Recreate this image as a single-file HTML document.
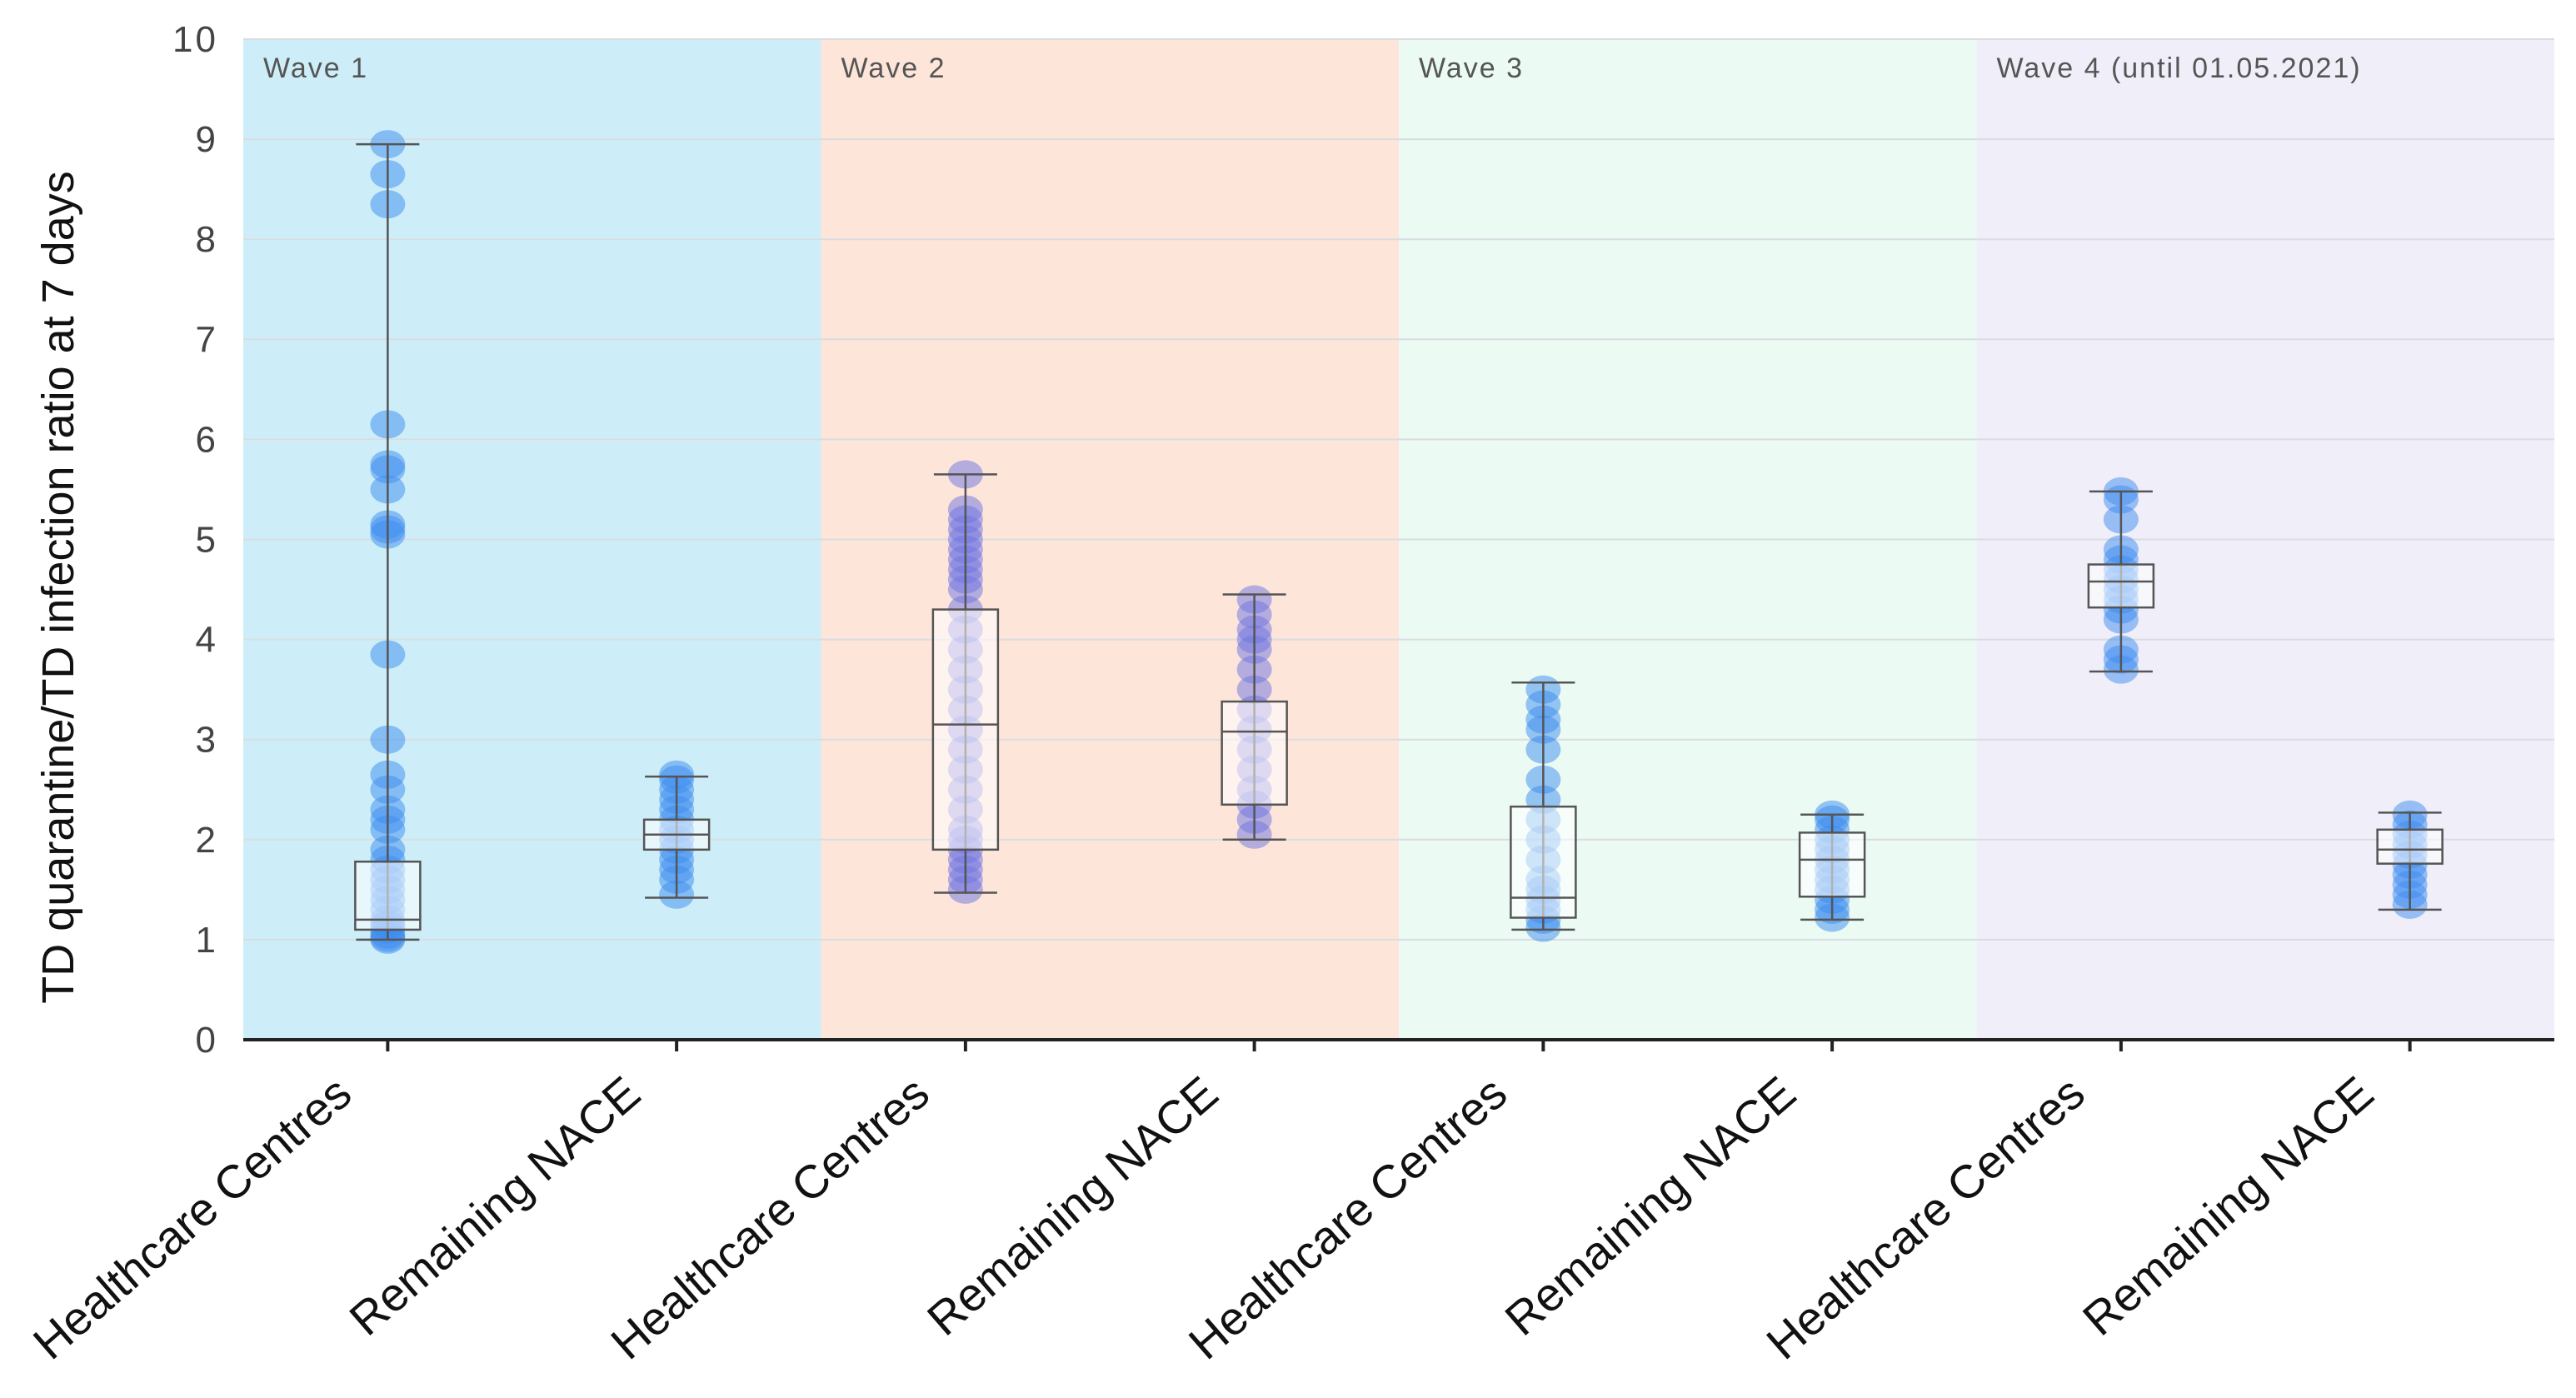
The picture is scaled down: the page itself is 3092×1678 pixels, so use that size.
<!DOCTYPE html>
<html><head><meta charset="utf-8"><style>
html,body{margin:0;padding:0;background:#fff;}
svg{display:block;font-family:"Liberation Sans",sans-serif;}
</style></head><body>
<svg id="chart" width="3092" height="1678" viewBox="0 0 3092 1678"></svg>
<script>
const waves = ["Wave 1","Wave 2","Wave 3","Wave 4 (until 01.05.2021)"];
const waveColors = ["#cdeef9","#fde5da","#ebfaf3","#f0eef9"];
const categories = ["Healthcare Centres","Remaining NACE","Healthcare Centres","Remaining NACE","Healthcare Centres","Remaining NACE","Healthcare Centres","Remaining NACE"];
const whiskerLow  = [1.0, 1.42, 1.47, 2.0, 1.1, 1.2, 3.68, 1.3];
const q1          = [1.1, 1.9, 1.9, 2.35, 1.22, 1.43, 4.32, 1.76];
const median      = [1.2, 2.05, 3.15, 3.08, 1.42, 1.8, 4.58, 1.9];
const q3          = [1.78, 2.2, 4.3, 3.38, 2.33, 2.07, 4.75, 2.1];
const whiskerHigh = [8.95, 2.63, 5.65, 4.45, 3.57, 2.25, 5.48, 2.27];
const points = [
 [1.0,1.02,1.05,1.1,1.15,1.2,1.3,1.4,1.5,1.6,1.7,1.8,1.9,2.1,2.2,2.3,2.5,2.65,3.0,3.85,5.05,5.1,5.15,5.5,5.7,5.75,6.15,8.35,8.65,8.95],
 [1.45,1.6,1.7,1.8,1.9,2.0,2.1,2.2,2.3,2.4,2.5,2.6,2.65],
 [1.5,1.6,1.7,1.8,1.9,2.0,2.1,2.3,2.5,2.7,2.9,3.1,3.3,3.5,3.7,3.9,4.1,4.3,4.5,4.6,4.7,4.8,4.9,5.0,5.1,5.2,5.3,5.65],
 [2.05,2.2,2.35,2.5,2.7,2.9,3.1,3.3,3.5,3.7,3.9,4.0,4.1,4.25,4.4],
 [1.12,1.2,1.3,1.4,1.5,1.6,1.8,2.0,2.2,2.4,2.6,2.9,3.1,3.2,3.35,3.5],
 [1.22,1.3,1.4,1.5,1.6,1.7,1.8,1.9,2.0,2.1,2.2,2.25],
 [3.7,3.8,3.9,4.2,4.3,4.4,4.5,4.6,4.7,4.8,4.9,5.2,5.4,5.48],
 [1.35,1.45,1.55,1.65,1.75,1.85,1.95,2.05,2.15,2.25]
];
const yTicks = [0,1,2,3,4,5,6,7,8,9,10];

const NS="http://www.w3.org/2000/svg";
const svg=document.getElementById('chart');
const L=292,R=3066,T=47,B=1248;
const yMax=10;
function yScale(v){return B-(v/yMax)*(B-T);}
const step=(R-L)/categories.length;
function xScale(i){return L+step*(i+0.5);}
function mk(tag,attrs,parent){const e=document.createElementNS(NS,tag);for(const k in attrs)e.setAttribute(k,attrs[k]);(parent||svg).appendChild(e);return e;}

const waveW=(R-L)/waves.length;
waves.forEach((w,i)=>{
  const r=mk('rect',{x:L+i*waveW,y:T,width:waveW,height:B-T,fill:waveColors[i]});
  
  
  const t=mk('text',{x:L+i*waveW+24,y:T+46,'font-size':34,'letter-spacing':2,fill:'#555'});
  t.textContent=w;
  
  
});
yTicks.forEach(v=>{
  const g=mk('line',{x1:L,x2:R,y1:yScale(v),y2:yScale(v),stroke:'#d9dde2','stroke-width':2});
  
  
  const t=mk('text',{x:L-30,y:yScale(v)+15,'font-size':44,'letter-spacing':3,fill:'#444','text-anchor':'end'});
  t.textContent=v;
  
  
});
const ax=mk('line',{x1:L,x2:R,y1:B,y2:B,stroke:'#222','stroke-width':4});



const yt=mk('text',{x:0,y:0,'font-size':54,fill:'#111','text-anchor':'middle',transform:'translate(88,705) rotate(-90)'});
yt.textContent='TD quarantine/TD infection ratio at 7 days';



categories.forEach((c,i)=>{
  const x=xScale(i);
  const color = (i===2||i===3)?'rgba(110,115,225,0.5)':'rgba(60,140,240,0.5)';
  const g=mk('g',{});
  
  
  points[i].forEach(v=>{
    const p=mk('ellipse',{cx:x,cy:yScale(v),rx:21,ry:17,fill:color},g);
    
    
  });
  const w=mk('line',{x1:x,x2:x,y1:yScale(whiskerHigh[i]),y2:yScale(whiskerLow[i]),stroke:'#555','stroke-width':2.5},g);
  
  
  [whiskerHigh[i],whiskerLow[i]].forEach(v=>{
    const cap=mk('line',{x1:x-38,x2:x+38,y1:yScale(v),y2:yScale(v),stroke:'#555','stroke-width':2.5},g);
    
    
  });
  const b=mk('rect',{x:x-39,y:yScale(q3[i]),width:78,height:yScale(q1[i])-yScale(q3[i]),fill:'rgba(255,255,255,0.55)',stroke:'#555','stroke-width':2.5},g);
  
  
  const m=mk('line',{x1:x-39,x2:x+39,y1:yScale(median[i]),y2:yScale(median[i]),stroke:'#555','stroke-width':2.5},g);
  
  
  const tk=mk('line',{x1:x,x2:x,y1:B,y2:B+14,stroke:'#222','stroke-width':4});
  
  
  const t=mk('text',{x:0,y:0,'font-size':56,fill:'#111','text-anchor':'end',transform:`translate(${x-40},${B+70}) rotate(-41)`});
  t.textContent=c;
  
  
});
</script>
</body></html>
